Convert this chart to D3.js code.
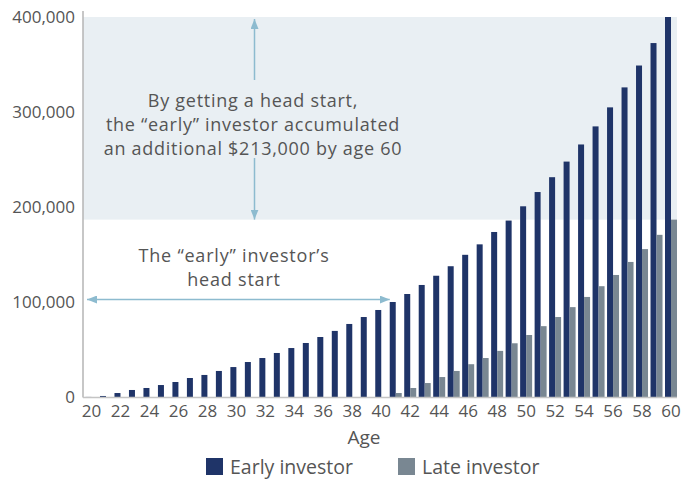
<!DOCTYPE html>
<html>
<head>
<meta charset="utf-8">
<script src="https://cdn.jsdelivr.net/npm/d3@7"></script>
<style>
  body { margin: 0; background: #fff; }
  text { font-family: "Open Sans", "Noto Sans", sans-serif; }
</style>
</head>
<body>
<div id="chart"></div>
<script>
// ages on the x axis
var ages = [20, 21, 22, 23, 24, 25, 26, 27, 28, 29, 30, 31, 32, 33, 34, 35, 36, 37, 38, 39, 40,
            41, 42, 43, 44, 45, 46, 47, 48, 49, 50, 51, 52, 53, 54, 55, 56, 57, 58, 59, 60];
// account values, in thousands of dollars
var early = [0.6, 1.6, 4.7, 7.9, 10, 13.1, 16.3, 20.5, 23.7, 27.9, 32, 37.3, 41.5, 46.8, 52, 57.3,
             63.6, 70, 77.3, 84.6, 92, 100.4, 108.8, 118.3, 128, 138, 150, 161, 174, 186, 201,
             216, 231.6, 248, 266, 285, 305, 326, 349, 372.6, 400];
var late = [0, 0, 0, 0, 0, 0, 0, 0, 0, 0, 0, 0, 0, 0, 0, 0, 0, 0, 0, 0, 0.5,
            4.7, 10, 15.2, 21.5, 27.9, 35, 41.5, 49, 57, 65.7, 75, 84.6, 95, 105.7, 117,
            128.8, 142.5, 156, 171, 187];
var yTicks = [0, 100000, 200000, 300000, 400000];
var xTicks = [20, 22, 24, 26, 28, 30, 32, 34, 36, 38, 40, 42, 44, 46, 48, 50, 52, 54, 56, 58, 60];
var series = ["Early investor", "Late investor"];
var colors = ["#1f3468", "#798792"];

var width = 692, height = 481;
var plotLeft = 83, plotRight = 677, plotBottom = 397.5, plotTop = 17;
var textColor = "#555";
var arrowColor = "#8dbbcf";

var svg = d3.select("#chart").append("svg")
    .attr("width", width)
    .attr("height", height);

var x = d3.scaleBand()
    .domain(ages)
    .range([85.5, plotRight])
    .paddingInner(0.172)
    .paddingOuter(0);

var xSub = d3.scaleBand()
    .domain([0, 1])
    .range([0, x.bandwidth()]);

var y = d3.scaleLinear()
    .domain([0, 400000])
    .range([plotBottom, plotTop]);

// shaded area between the two final values
var lateFinal = late[late.length - 1] * 1000;
svg.append("rect")
    .attr("x", plotLeft)
    .attr("y", y(400000))
    .attr("width", plotRight - plotLeft)
    .attr("height", y(lateFinal) - y(400000))
    .attr("fill", "#e9eff3");

// bars
var rows = ages.map(function (a, i) {
    return {age: a, values: [early[i] * 1000, late[i] * 1000]};
});

var groups = svg.selectAll(".age")
    .data(rows)
    .enter()
    .append("g")
    .attr("class", "age")
    .attr("transform", function (d) {
        return "translate(" + x(d.age) + ",0)";
    });

groups.selectAll("rect")
    .data(function (d) { return d.values; })
    .enter()
    .append("rect")
    .attr("x", function (d, i) { return xSub(i); })
    .attr("y", function (d) { return y(d); })
    .attr("width", xSub.bandwidth())
    .attr("height", function (d) { return plotBottom - y(d); })
    .attr("fill", function (d, i) { return colors[i]; });

// axes
svg.append("line")
    .attr("x1", plotLeft).attr("x2", plotLeft)
    .attr("y1", 11).attr("y2", plotBottom)
    .attr("stroke", "#b5b5b5")
    .attr("stroke-width", 1.5);

svg.append("line")
    .attr("x1", plotLeft).attr("x2", plotRight)
    .attr("y1", plotBottom).attr("y2", plotBottom)
    .attr("stroke", "#c4c4c4")
    .attr("stroke-width", 1.5);

var yAxis = svg.append("g")
    .attr("transform", "translate(" + (plotLeft - 8) + ",0)")
    .call(d3.axisLeft(y).tickValues(yTicks).tickFormat(d3.format(",")).tickSize(0).tickPadding(0));
yAxis.select(".domain").remove();
yAxis.selectAll("text")
    .attr("font-size", "17px")
    .attr("fill", textColor)
    .attr("font-family", "Open Sans");

var xAxis = svg.append("g")
    .attr("transform", "translate(0," + plotBottom + ")")
    .call(d3.axisBottom(x).tickValues(xTicks).tickSize(0).tickPadding(7));
xAxis.select(".domain").remove();
xAxis.selectAll("text")
    .attr("font-size", "17px")
    .attr("fill", textColor)
    .attr("font-family", "Open Sans");

svg.append("text")
    .attr("x", 364)
    .attr("y", 444)
    .attr("text-anchor", "middle")
    .attr("font-size", "19px")
    .attr("fill", textColor)
    .text("Age");

// arrows
var defs = svg.append("defs");
defs.append("marker")
    .attr("id", "head")
    .attr("viewBox", "0 0 10 8")
    .attr("refX", 10)
    .attr("refY", 4)
    .attr("markerWidth", 10)
    .attr("markerHeight", 8)
    .attr("markerUnits", "userSpaceOnUse")
    .attr("orient", "auto-start-reverse")
    .append("path")
    .attr("d", "M0,0L10,4L0,8Z")
    .attr("fill", arrowColor);

var ax = 254.5;
svg.append("line")
    .attr("x1", ax).attr("x2", ax)
    .attr("y1", 80).attr("y2", y(400000) + 2)
    .attr("stroke", arrowColor).attr("stroke-width", 1.5)
    .attr("marker-end", "url(#head)");
svg.append("line")
    .attr("x1", ax).attr("x2", ax)
    .attr("y1", 158).attr("y2", y(lateFinal))
    .attr("stroke", arrowColor).attr("stroke-width", 1.5)
    .attr("marker-end", "url(#head)");

svg.append("line")
    .attr("x1", 87).attr("x2", x(41))
    .attr("y1", 299.5).attr("y2", 299.5)
    .attr("stroke", arrowColor).attr("stroke-width", 1.5)
    .attr("marker-start", "url(#head)")
    .attr("marker-end", "url(#head)");

// annotation text
var topNote = ["By getting a head start,", "the \u201cearly\u201d investor accumulated", "an additional $213,000 by age 60"];
svg.append("g").selectAll("text")
    .data(topNote)
    .enter()
    .append("text")
    .attr("x", 253)
    .attr("y", function (d, i) { return 107 + i * 24; })
    .attr("text-anchor", "middle")
    .attr("font-size", "18px")
    .attr("letter-spacing", "0.72px")
    .attr("fill", textColor)
    .text(function (d) { return d; });

var leftNote = ["The \u201cearly\u201d investor\u2019s", "head start"];
svg.append("g").selectAll("text")
    .data(leftNote)
    .enter()
    .append("text")
    .attr("x", 234)
    .attr("y", function (d, i) { return 262 + i * 24; })
    .attr("text-anchor", "middle")
    .attr("font-size", "18px")
    .attr("letter-spacing", "0.8px")
    .attr("fill", textColor)
    .text(function (d) { return d; });

// legend
var legendX = [206, 398];
var legend = svg.selectAll(".legend")
    .data(series)
    .enter()
    .append("g")
    .attr("class", "legend")
    .attr("transform", function (d, i) { return "translate(" + legendX[i] + ",458)"; });
legend.append("rect")
    .attr("width", 17)
    .attr("height", 17)
    .attr("fill", function (d, i) { return colors[i]; });
legend.append("text")
    .attr("x", 24)
    .attr("y", 16)
    .attr("font-size", "19.5px")
    .attr("fill", textColor)
    .text(function (d) { return d; });
</script>
</body>
</html>
